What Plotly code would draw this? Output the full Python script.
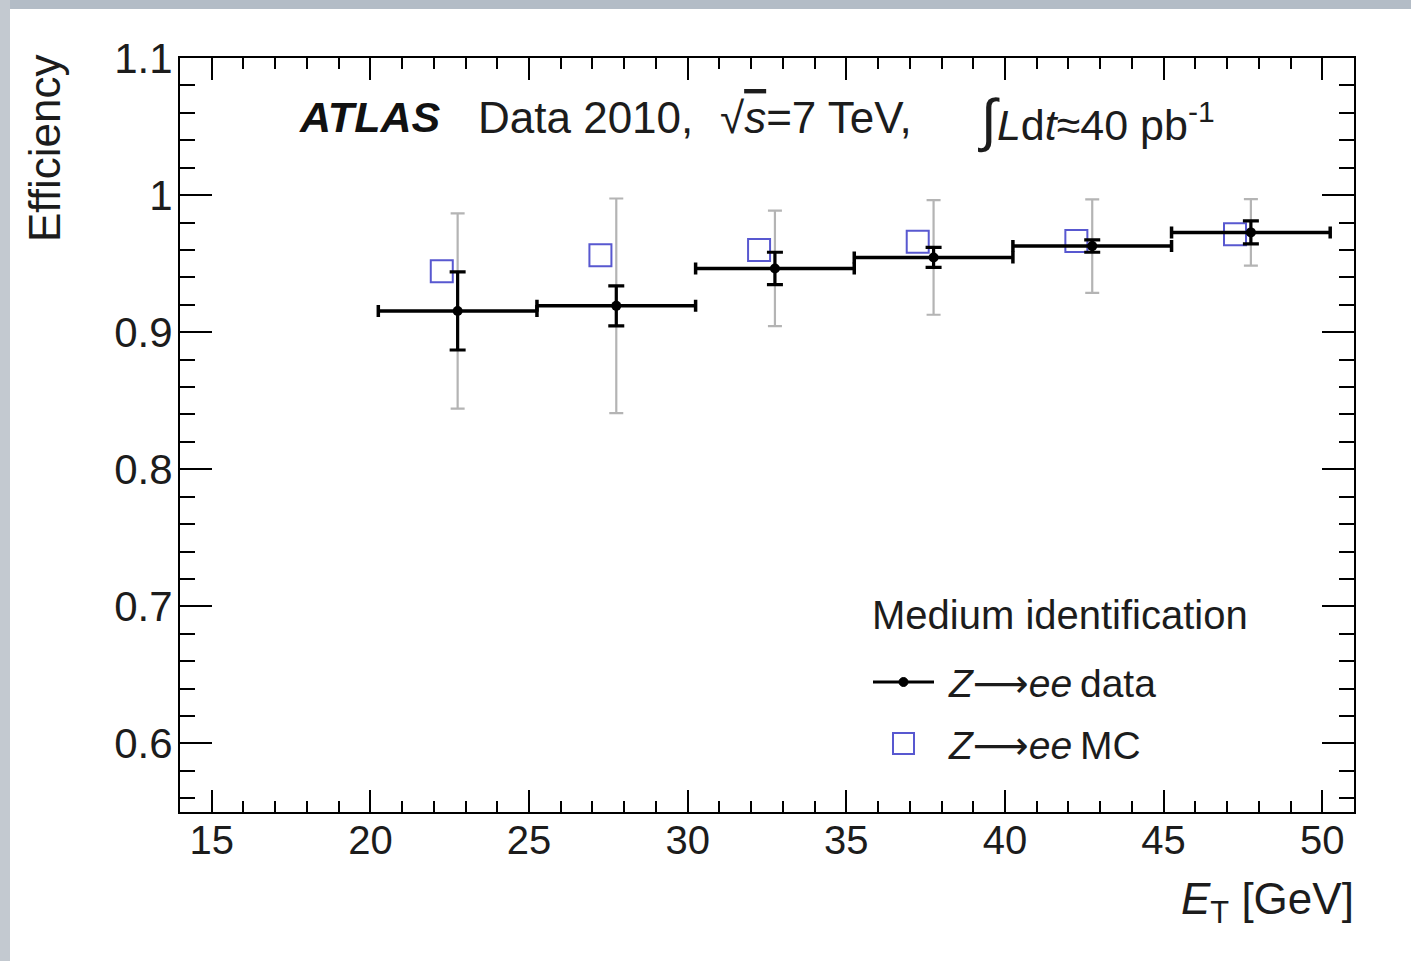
import plotly.graph_objects as go

# ---------------- data ----------------
data_et = [22.75, 27.75, 32.75, 37.75, 42.75, 47.75]
bin_halfwidth = [2.5, 2.5, 2.5, 2.5, 2.5, 2.5]
data_eff = [0.9155, 0.9192, 0.9465, 0.9545, 0.9628, 0.9728]
data_stat = [0.0285, 0.0146, 0.0118, 0.0073, 0.0045, 0.0084]
data_total = [0.0712, 0.0783, 0.0421, 0.0418, 0.0341, 0.0243]

mc_et = [22.25, 27.25, 32.25, 37.25, 42.25, 47.25]
mc_eff = [0.9445, 0.9562, 0.9599, 0.9659, 0.9666, 0.9715]

x_tickvals = [15, 20, 25, 30, 35, 40, 45, 50]
x_ticktext = ["15", "20", "25", "30", "35", "40", "45", "50"]
y_tickvals = [0.6, 0.7, 0.8, 0.9, 1.0, 1.1]
y_ticktext = ["0.6", "0.7", "0.8", "0.9", "1", "1.1"]

FONT = "Liberation Sans, Arial, Helvetica, sans-serif"
W, H = 1411, 961
L, R, T, B = 180, 57, 58, 149
PW, PH = W - L - R, H - T - B


def fx(p):
    return (p - L) / PW


def fy(p):
    return (H - B - p) / PH


ARROW = "<span style='font-family:DejaVu Sans'>\u27f6</span>"
TXT = "#1c1c1c"

fig = go.Figure()

# total (stat+syst) uncertainty, grey
fig.add_trace(go.Scatter(
    x=data_et, y=data_eff, mode="markers",
    marker=dict(size=1, color="rgba(0,0,0,0)"),
    error_y=dict(type="data", array=data_total, color="#b4b4b4", thickness=2.2, width=7),
    showlegend=False, hoverinfo="skip"))

# MC
fig.add_trace(go.Scatter(
    x=mc_et, y=mc_eff, mode="markers",
    marker=dict(symbol="square-open", size=22, color="#5858d0", line=dict(width=2, color="#5858d0")),
    showlegend=False))

# data with stat error
fig.add_trace(go.Scatter(
    x=data_et, y=data_eff, mode="markers",
    marker=dict(symbol="circle", size=10, color="black"),
    error_y=dict(type="data", array=data_stat, color="black", thickness=3.2, width=8),
    error_x=dict(type="data", array=bin_halfwidth, color="black", thickness=3.5, width=6),
    showlegend=False))

axis_common = dict(showline=True, linecolor="black", linewidth=2, mirror="ticks",
                   ticks="inside", tickcolor="black", showgrid=False, zeroline=False)

fig.update_xaxes(range=[14, 51], tickvals=x_tickvals, ticktext=x_ticktext,
                 ticklen=22, tickwidth=2, ticklabelstandoff=-8,
                 tickfont=dict(family=FONT, size=40, color=TXT),
                 minor=dict(dtick=1, tick0=0, ticklen=11, tickwidth=2, ticks="inside", tickcolor="black"),
                 **axis_common)
fig.update_yaxes(range=[0.55, 1.1], tickvals=y_tickvals, ticktext=y_ticktext,
                 ticklen=32, tickwidth=2, ticklabelstandoff=-3,
                 tickfont=dict(family=FONT, size=42, color=TXT),
                 minor=dict(dtick=0.02, tick0=0, ticklen=15, tickwidth=2, ticks="inside", tickcolor="black"),
                 **axis_common)

annotations = []
txt = dict(family=FONT, size=44, color=TXT)
annotations.append(dict(x=fx(297), y=fy(117), xref="paper", yref="paper", xanchor="left", yanchor="middle",
                        text="<b><i>ATLAS</i></b>", showarrow=False, font=dict(family=FONT, size=43, color="#111111")))
annotations.append(dict(x=fx(476), y=fy(117), xref="paper", yref="paper", xanchor="left", yanchor="middle",
                        text="Data 2010,", showarrow=False, font=txt))
annotations.append(dict(x=fx(718), y=fy(117), xref="paper", yref="paper", xanchor="left", yanchor="middle",
                        text="\u221a<span style='text-decoration:overline'><i>s</i></span>=7 TeV,",
                        showarrow=False, font=txt))
annotations.append(dict(x=fx(976), y=fy(120), xref="paper", yref="paper", xanchor="left", yanchor="middle",
                        text="<span style='font-size:58px'>\u222b</span><i>L</i>d<i>t</i>\u224840 pb<sup>-1</sup>",
                        showarrow=False, font=dict(family=FONT, size=43, color=TXT)))
# axis titles
annotations.append(dict(x=fx(44), y=fy(148), xref="paper", yref="paper", xanchor="center", yanchor="middle",
                        text="Efficiency", textangle=-90, showarrow=False,
                        font=dict(family=FONT, size=44, color=TXT)))
annotations.append(dict(x=fx(1356), y=fy(902), xref="paper", yref="paper", xanchor="right", yanchor="middle",
                        text="<i>E</i><sub>T</sub> [GeV]", showarrow=False,
                        font=dict(family=FONT, size=44, color=TXT)))
# legend
annotations.append(dict(x=fx(870), y=fy(615), xref="paper", yref="paper", xanchor="left", yanchor="middle",
                        text="Medium identification", showarrow=False, font=dict(family=FONT, size=40, color=TXT)))
annotations.append(dict(x=fx(946), y=fy(683), xref="paper", yref="paper", xanchor="left", yanchor="middle",
                        text="<i>Z</i>" + ARROW + "<i>ee</i>\u2009data", showarrow=False,
                        font=dict(family=FONT, size=39, color=TXT)))
annotations.append(dict(x=fx(946), y=fy(745), xref="paper", yref="paper", xanchor="left", yanchor="middle",
                        text="<i>Z</i>" + ARROW + "<i>ee</i>\u2009MC", showarrow=False,
                        font=dict(family=FONT, size=39, color=TXT)))

shapes = [
    # grey screenshot border
    dict(type="rect", xref="paper", yref="paper", x0=fx(0), x1=fx(W), y0=fy(9), y1=fy(0),
         fillcolor="#b3bcc6", line=dict(width=0), layer="below"),
    dict(type="rect", xref="paper", yref="paper", x0=fx(0), x1=fx(10), y0=fy(H), y1=fy(0),
         fillcolor="#c3c9d0", line=dict(width=0), layer="below"),
    # legend samples
    dict(type="line", xref="paper", yref="paper", x0=fx(873), x1=fx(934), y0=fy(682), y1=fy(682),
         line=dict(color="black", width=3)),
    dict(type="circle", xref="paper", yref="paper", x0=fx(899), x1=fx(908), y0=fy(686.5), y1=fy(677.5),
         fillcolor="black", line=dict(color="black", width=1)),
    dict(type="rect", xref="paper", yref="paper", x0=fx(893), x1=fx(914), y0=fy(754), y1=fy(733),
         fillcolor="rgba(0,0,0,0)", line=dict(color="#5858d0", width=2)),
]

fig.update_layout(
    width=W, height=H,
    margin=dict(l=L, r=R, t=T, b=B),
    paper_bgcolor="white", plot_bgcolor="white",
    annotations=annotations, shapes=shapes,
    showlegend=False,
)

fig.write_html("out.html", config={"displayModeBar": False},
               post_script="document.body.style.margin='0';document.body.style.overflow='hidden';")
